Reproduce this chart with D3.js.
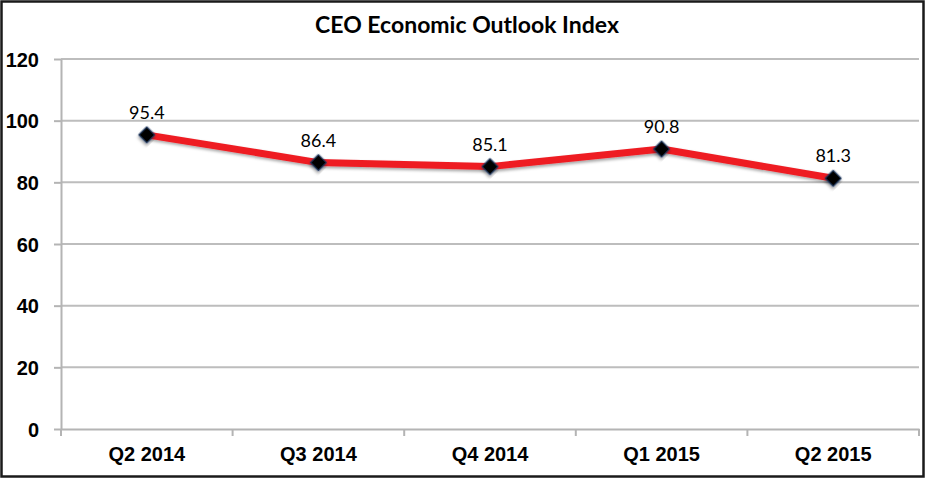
<!DOCTYPE html>
<html lang="en">
<head>
<meta charset="utf-8">
<title>CEO Economic Outlook Index</title>
<style>
  body { margin: 0; background: #fff; }
  svg { display: block; font-family: Lato, "Open Sans", sans-serif; }
  .grid line { stroke: #bdbdbd; stroke-width: 2; }
  .axis path, .axis line { fill: none; stroke: #b4b4b4; stroke-width: 2; }
  .axis text { font-size: 20px; font-weight: bold; fill: #000; }
</style>
</head>
<body>
<script src="https://cdn.jsdelivr.net/npm/d3@7/dist/d3.min.js"></script>
<script>
var quarters = ["Q2 2014", "Q3 2014", "Q4 2014", "Q1 2015", "Q2 2015"];
var index = [95.4, 86.4, 85.1, 90.8, 81.3];
var yTicks = [0, 20, 40, 60, 80, 100, 120];

var w = 926, h = 479;
var plotLeft = 61, plotRight = 919, plotTop = 59, plotBottom = 429;

var svg = d3.select("body").append("svg")
  .attr("width", w)
  .attr("height", h);

// frame
svg.append("rect")
  .attr("x", 1.5).attr("y", 1.5)
  .attr("width", 922).attr("height", 475)
  .attr("fill", "#fff")
  .attr("stroke", "#1a1a1a")
  .attr("stroke-width", 2.5);

var defs = svg.append("defs");
var f = defs.append("filter").attr("id", "shadow")
  .attr("x", "-20%").attr("y", "-50%").attr("width", "140%").attr("height", "200%");
f.append("feDropShadow")
  .attr("dx", 1.5).attr("dy", 2)
  .attr("stdDeviation", 1.5)
  .attr("flood-color", "#000")
  .attr("flood-opacity", 0.35);

var x = d3.scaleBand()
  .domain(quarters)
  .range([plotLeft, plotRight]);

var y = d3.scaleLinear()
  .domain([0, 120])
  .range([plotBottom, plotTop]);

// gridlines
svg.append("g")
  .attr("class", "grid")
  .selectAll("line")
  .data(yTicks.slice(1))
  .enter().append("line")
  .attr("x1", plotLeft).attr("x2", plotRight)
  .attr("y1", function(d){ return y(d); })
  .attr("y2", function(d){ return y(d); });

// y axis
var yAxis = d3.axisLeft(y).tickValues(yTicks).tickSize(7).tickSizeOuter(0).tickPadding(15);
svg.append("g")
  .attr("class", "axis")
  .attr("transform", "translate(" + plotLeft + ",0)")
  .call(yAxis)
  .call(function(g){ g.selectAll("text").attr("dy", "0.35em"); });

// x axis, ticks sit between categories
var xAxis = d3.axisBottom(x).tickSize(0).tickSizeOuter(0).tickPadding(18);
var gx = svg.append("g")
  .attr("class", "axis")
  .attr("transform", "translate(0," + plotBottom + ")")
  .call(xAxis);
gx.selectAll(".sep")
  .data(d3.range(quarters.length + 1))
  .enter().append("line")
  .attr("class", "sep")
  .attr("x1", function(i){ return plotLeft + i * x.bandwidth(); })
  .attr("x2", function(i){ return plotLeft + i * x.bandwidth(); })
  .attr("y1", 0).attr("y2", 7);

var cx = function(d, i){ return x(quarters[i]) + x.bandwidth() / 2; };

// line
var line = d3.line()
  .x(function(d, i){ return cx(d, i); })
  .y(function(d){ return y(d); });

svg.append("path")
  .datum(index)
  .attr("d", line)
  .attr("fill", "none")
  .attr("stroke", "#ee1c24")
  .attr("stroke-width", 7)
  .attr("stroke-linejoin", "round")
  .attr("filter", "url(#shadow)");

// markers
svg.selectAll(".marker")
  .data(index)
  .enter().append("path")
  .attr("class", "marker")
  .attr("d", d3.symbol().type(d3.symbolSquare).size(135))
  .attr("transform", function(d, i){ return "translate(" + cx(d, i) + "," + y(d) + ") rotate(45)"; })
  .attr("fill", "#000")
  .attr("stroke", "#1f3a66")
  .attr("stroke-width", 1)
  .attr("filter", "url(#shadow)");

// data labels
svg.selectAll(".label")
  .data(index)
  .enter().append("text")
  .attr("class", "label")
  .attr("x", cx)
  .attr("y", function(d){ return y(d) - 16; })
  .attr("text-anchor", "middle")
  .style("font-size", "18px")
  .text(function(d){ return d.toFixed(1); });

// title
svg.append("text")
  .attr("x", 467)
  .attr("y", 33)
  .attr("text-anchor", "middle")
  .style("font-size", "23px")
  .style("font-weight", "bold")
  .text("CEO Economic Outlook Index");
</script>
</body>
</html>
